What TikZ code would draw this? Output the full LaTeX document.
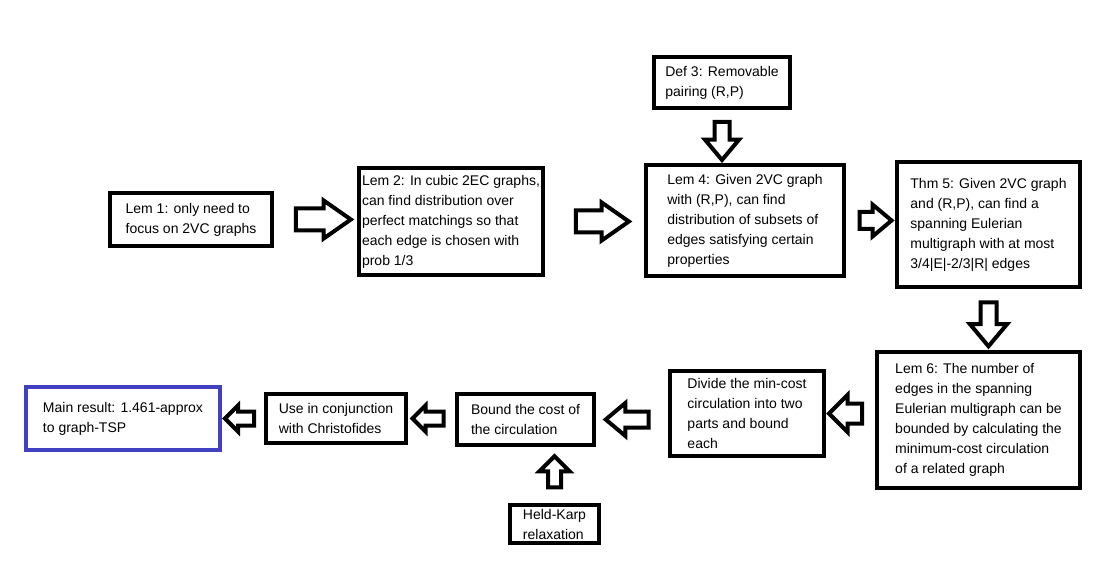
\documentclass[tikz,border=0pt]{standalone}
\usepackage{fontspec}
\setmainfont{Liberation Sans}
\usetikzlibrary{shapes.arrows}
\definecolor{resultColor}{RGB}{64,64,192}
\tikzstyle{diagram} = [x = 1pt, y = -1pt]
\tikzstyle{boxStyle} = [draw=black, line width=4pt, fill=white, align=left, inner sep=0pt, font=\fontsize{14}{20}\selectfont]
\tikzstyle{resultStyle} = [boxStyle, draw=resultColor]
\tikzstyle{fatArrow} = [single arrow, draw=black, line width=4pt, fill=white, minimum width=0pt]
\newcommand{\fatArrowBetween}[8]{\path (#1) -- node [fatArrow, rotate=#3, minimum height=#4pt, inner sep=#5pt, single arrow head extend=#6pt, single arrow tip angle=#7] (#8) {} (#2);}

\begin{document}
\begin{tikzpicture}[diagram]
  \useasboundingbox (0,0) rectangle (1112,588);
  \node [boxStyle, minimum width=162pt, minimum height=53pt] (lemOne) at (191,219.5) {Lem 1: only need to\\focus on 2VC graphs};
  \node [boxStyle, minimum width=184pt, minimum height=107pt] (lemTwo) at (451,221.5) {Lem 2: In cubic 2EC graphs,\\can find distribution over\\perfect matchings so that\\each edge is chosen with\\prob 1/3};
  \node [boxStyle, minimum width=136pt, minimum height=51pt] (defThree) at (722,82.5) {Def 3: Removable\\pairing (R,P)};
  \node [boxStyle, minimum width=198pt, minimum height=111pt] (lemFour) at (745,220.5) {Lem 4: Given 2VC graph\\with (R,P), can find\\distribution of subsets of\\edges satisfying certain\\properties};
  \node [boxStyle, minimum width=183pt, minimum height=125pt] (thmFive) at (988.5,224.5) {Thm 5: Given 2VC graph\\and (R,P), can find a\\spanning Eulerian\\multigraph with at most\\3/4|E|-2/3|R| edges};
  \node [boxStyle, minimum width=203pt, minimum height=136pt] (lemSix) at (978.5,420) {Lem 6: The number of\\edges in the spanning\\Eulerian multigraph can be\\bounded by calculating the\\minimum-cost circulation\\of a related graph};
  \node [boxStyle, minimum width=154pt, minimum height=85pt] (divide) at (747,413.5) {Divide the min-cost\\circulation into two\\parts and bound\\each};
  \node [boxStyle, minimum width=137pt, minimum height=51pt] (bound) at (525.5,419.5) {Bound the cost of\\the circulation};
  \node [boxStyle, minimum width=89pt, minimum height=38pt] (heldKarp) at (554.5,524) {Held-Karp\\relaxation};
  \node [boxStyle, minimum width=140pt, minimum height=49pt] (useIn) at (336,418.5) {Use in conjunction\\with Christofides};
  \node [resultStyle, minimum width=194pt, minimum height=63pt] (mainResult) at (123,418.5) {Main result: 1.461-approx\\to graph-TSP};

  \fatArrowBetween{lemOne.east}{lemTwo.west |- lemOne.east}{0}{55}{9}{8}{70}{arrowOne}
  \fatArrowBetween{lemTwo.east}{lemFour.west |- lemTwo.east}{0}{53}{9}{8}{70}{arrowTwo}
  \fatArrowBetween{defThree.south}{defThree.south |- lemFour.north}{-90}{38}{5.5}{9.5}{80}{arrowThree}
  \fatArrowBetween{lemFour.east}{thmFive.west |- lemFour.east}{0}{32}{6.5}{7.5}{80}{arrowFour}
  \fatArrowBetween{thmFive.south}{thmFive.south |- lemSix.north}{-90}{44}{6}{10.5}{80}{arrowFive}
  \fatArrowBetween{lemSix.west |- divide.east}{divide.east}{180}{33}{8}{8.5}{90}{arrowSix}
  \fatArrowBetween{divide.west |- bound.east}{bound.east}{180}{43}{6}{8.5}{80}{arrowSeven}
  \fatArrowBetween{heldKarp.north}{heldKarp.north |- bound.south}{90}{31}{4.5}{8.5}{90}{arrowEight}
  \fatArrowBetween{bound.west |- useIn.east}{useIn.east}{180}{31}{5}{6}{90}{arrowNine}
  \fatArrowBetween{useIn.west |- mainResult.east}{mainResult.east}{180}{29}{5}{6}{90}{arrowTen}
\end{tikzpicture}
\end{document}
